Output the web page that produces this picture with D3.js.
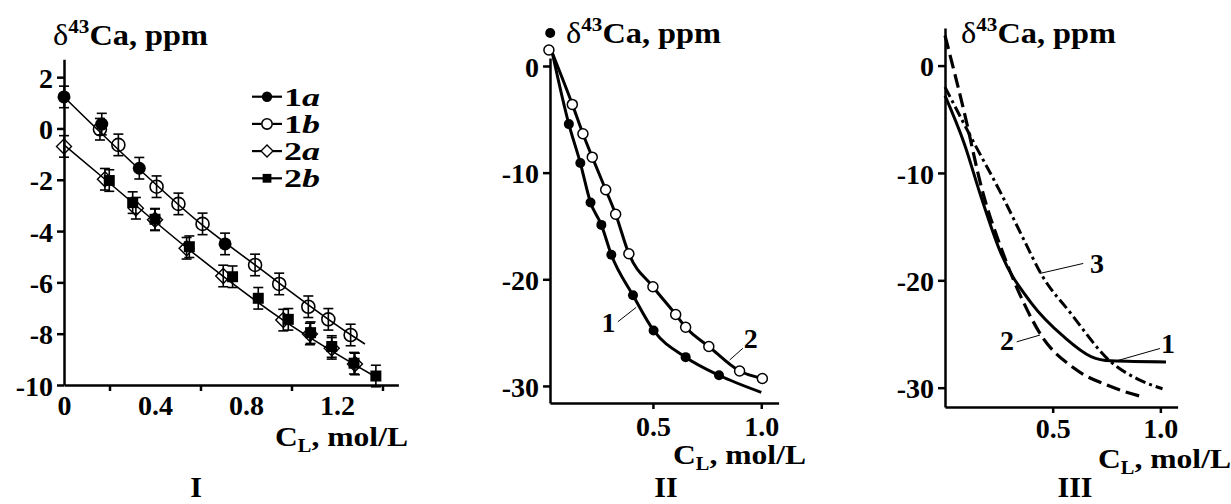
<!DOCTYPE html>
<meta charset="utf-8">
<head>
    <script type="text/javascript" src="https://d3js.org/d3.v7.min.js"></script>
    <style>
        body { margin: 0; background: #fff; }
        text { font-family: "Liberation Serif", "Times New Roman", serif; font-weight: bold; fill: #000; }
        .tick text { font-size: 28px; }
        .domain, .tick line { stroke: #000; stroke-width: 2.5; }
    </style>
    <title></title>
</head>
<body>
    <script>
        var W = 1231, H = 504;
        var svg = d3.select("body").append("svg")
            .attr("width", W)
            .attr("height", H);

        // ---------- panel I data: [C_L, delta43Ca]
        var s1a = [[0, 1.23], [0.166, 0.17], [0.331, -1.55], [0.708, -4.5]];
        var s1b = [[0.158, -0.03], [0.239, -0.64], [0.407, -2.27], [0.503, -2.94], [0.609, -3.72],
                   [0.84, -5.32], [0.946, -6.06], [1.074, -6.95], [1.162, -7.44], [1.26, -8.05]];
        var s2a = [[0, -0.7], [0.18, -1.98], [0.316, -3.11], [0.4, -3.56], [0.539, -4.67],
                   [0.7, -5.75], [0.964, -7.47], [1.081, -8.01], [1.177, -8.57], [1.279, -9.18]];
        var s2b = [[0.199, -2.03], [0.302, -2.89], [0.4, -3.54], [0.551, -4.61], [0.741, -5.78],
                   [0.854, -6.62], [0.986, -7.44], [1.084, -7.96], [1.177, -8.5], [1.275, -9.15], [1.371, -9.65]];
        var errBar = 0.42;
        var fitLine1 = [[0, 1.23], [0.325, -1.54], [0.602, -3.72], [0.84, -5.32], [1.262, -8.05], [1.323, -8.4]];
        var fitLine2 = [[0, -0.64], [0.18, -1.98], [0.541, -4.66], [0.963, -7.47], [1.371, -9.69]];
        var xTicksI = [0, 0.4, 0.8, 1.2];
        var xMinorI = [0.2, 0.6, 1.0, 1.4];
        var yTicksI = [2, 0, -2, -4, -6, -8, -10];
        var legendI = [["1", "a", "circleFill"], ["1", "b", "circleOpen"], ["2", "a", "diamond"], ["2", "b", "square"]];

        // ---------- panel II data
        var p2c1 = [[0.026, 3.1], [0.112, -5.45], [0.165, -9.1], [0.212, -12.8], [0.262, -14.9],
                    [0.308, -17.7], [0.408, -21.5], [0.503, -24.8], [0.651, -27.3], [0.805, -29.0]];
        var p2c2 = [[0.02, 1.5], [0.128, -3.6], [0.177, -6.35], [0.22, -8.55], [0.282, -11.6], [0.328, -13.9],
                    [0.389, -17.6], [0.5, -20.7], [0.605, -23.3], [0.651, -24.5], [0.758, -26.3], [0.9, -28.6], [1.005, -29.3]];
        var p2line1 = [[0.036, 1.2], [0.112, -5.45], [0.165, -9.1], [0.212, -12.8], [0.262, -14.9],
                       [0.308, -17.7], [0.408, -21.5], [0.503, -24.8], [0.651, -27.3], [0.805, -29.0], [1.0, -30.6]];
        var p2line2 = [[0.036, 1.2], [0.128, -3.6], [0.177, -6.35], [0.22, -8.55], [0.282, -11.6], [0.328, -13.9],
                       [0.389, -17.6], [0.5, -20.7], [0.605, -23.3], [0.651, -24.5], [0.758, -26.3], [0.9, -28.6], [1.005, -29.3]];
        var xTicksII = [0.5, 1.0];
        var yTicksII = [0, -10, -20, -30];
        var labelsII = [{t: "1", at: [0.295, -24.95], from: [0.338, -23.98], to: [0.423, -22.63]},
                        {t: "2", at: [0.951, -26.44], from: [0.915, -26.47], to: [0.854, -27.57]}];

        // ---------- panel III data
        var p3c1 = [[0, -2.8], [0.09, -7.3], [0.167, -12.2], [0.26, -17.5], [0.4, -22.1], [0.554, -25.3],
                    [0.678, -27.1], [0.77, -27.5], [1.026, -27.6]];
        var p3c2 = [[0, 2.8], [0.09, -4.4], [0.17, -11.4], [0.27, -17.5], [0.368, -22.2], [0.446, -25.1],
                    [0.6, -28.2], [0.77, -29.9], [0.925, -30.9]];
        var p3c3 = [[0, -2.0], [0.136, -7.25], [0.26, -11.9], [0.368, -16.3], [0.446, -19.4], [0.585, -23.1],
                    [0.77, -27.6], [0.895, -29.2], [1.01, -30.1]];
        var xTicksIII = [0.5, 1.0];
        var yTicksIII = [0, -10, -20, -30];
        var labelsIII = [{t: "3", at: [0.706, -19.33], from: [0.441, -19.36], to: [0.642, -18.43]},
                         {t: "1", at: [1.035, -26.78], from: [0.797, -27.5], to: [0.998, -26.35]},
                         {t: "2", at: [0.288, -26.5], from: [0.333, -25.73], to: [0.441, -25.1]}];

        // ---------- helpers
        var plain = function(d) { return String(d); };  // keeps a hyphen as the minus sign
        var oneDec = function(d) { return d.toFixed(1); };

        function yTitle(x, y) {
            var t = svg.append("text").attr("x", x).attr("y", y)
                .attr("font-size", 29)
                .attr("textLength", 155).attr("lengthAdjust", "spacingAndGlyphs");
            t.append("tspan").attr("font-weight", "normal").text("δ");
            t.append("tspan").attr("font-size", 19).attr("dy", -12).text("43");
            t.append("tspan").attr("dy", 12).text("Ca, ppm");
        }
        function xTitle(x, y) {
            var t = svg.append("text").attr("x", x).attr("y", y)
                .attr("font-size", 28)
                .attr("textLength", 133).attr("lengthAdjust", "spacingAndGlyphs");
            t.append("tspan").text("C");
            t.append("tspan").attr("font-size", 18).attr("dy", 6).text("L");
            t.append("tspan").attr("dy", -6).text(", mol/L");
        }
        function roman(x, txt) {
            svg.append("text").attr("x", x).attr("y", 497)
                .attr("text-anchor", "middle").attr("font-size", 30).text(txt);
        }
        function yAxis(scale, xpos, ticks) {
            var g = svg.append("g").attr("transform", "translate(" + xpos + ",0)")
                .call(d3.axisLeft(scale).tickValues(ticks).tickSize(7).tickPadding(4).tickSizeOuter(0).tickFormat(plain));
            g.selectAll(".tick text").attr("dy", "0.36em");
            return g;
        }

        // =================== PANEL I ===================
        var x1 = d3.scaleLinear().domain([0, 1.47]).range([64, 398.4]);
        var y1 = d3.scaleLinear().domain([-10, 2.7]).range([385, 59.2]);

        yAxis(y1, 64, yTicksI);
        svg.append("g").attr("transform", "translate(0,385)")
            .call(d3.axisBottom(x1).tickValues(xMinorI).tickSize(6).tickFormat("").tickSizeOuter(0));
        var gxl = svg.append("g").attr("transform", "translate(0,385)")
            .call(d3.axisBottom(x1).tickValues(xTicksI).tickSize(0).tickPadding(10).tickFormat(function(d) { return d === 0 ? "0" : oneDec(d); }));
        gxl.select(".domain").remove();
        gxl.selectAll(".tick text").attr("dy", "0.7em");

        var lineI = d3.line().x(function(d) { return x1(d[0]); }).y(function(d) { return y1(d[1]); }).curve(d3.curveMonotoneX);
        [fitLine1, fitLine2].forEach(function(l) {
            svg.append("path").datum(l).attr("d", lineI)
                .attr("fill", "none").attr("stroke", "#000").attr("stroke-width", 1.6);
        });

        // error bars
        var allI = s1a.concat(s1b, s2a, s2b);
        var eb = svg.append("g").attr("stroke", "#000").attr("stroke-width", 1.6);
        allI.forEach(function(d) {
            var xx = x1(d[0]), yt = y1(d[1] + errBar), yb = y1(d[1] - errBar);
            eb.append("line").attr("x1", xx).attr("x2", xx).attr("y1", yt).attr("y2", yb);
            eb.append("line").attr("x1", xx - 5).attr("x2", xx + 5).attr("y1", yt).attr("y2", yt);
            eb.append("line").attr("x1", xx - 5).attr("x2", xx + 5).attr("y1", yb).attr("y2", yb);
        });

        function marker(g, kind, cx, cy, s) {
            if (kind === "circleFill") {
                g.append("circle").attr("cx", cx).attr("cy", cy).attr("r", 6.5 * s).attr("fill", "#000");
            } else if (kind === "circleOpen") {
                g.append("circle").attr("cx", cx).attr("cy", cy).attr("r", 6.5 * s)
                    .attr("fill", "none").attr("stroke", "#000").attr("stroke-width", 1.6);
            } else if (kind === "diamond") {
                var r = 7.5 * s;
                g.append("path").attr("d", "M" + cx + "," + (cy - r) + "L" + (cx + r) + "," + cy + "L" + cx + "," + (cy + r) + "L" + (cx - r) + "," + cy + "Z")
                    .attr("fill", "none").attr("stroke", "#000").attr("stroke-width", 1.4);
            } else {
                var h = 5.5 * s;
                g.append("rect").attr("x", cx - h).attr("y", cy - h).attr("width", 2 * h).attr("height", 2 * h).attr("fill", "#000");
            }
        }
        var mk = svg.append("g");
        s2a.forEach(function(d) { marker(mk, "diamond", x1(d[0]), y1(d[1]), 1); });
        s2b.forEach(function(d) { marker(mk, "square", x1(d[0]), y1(d[1]), 1); });
        s1a.forEach(function(d) { marker(mk, "circleFill", x1(d[0]), y1(d[1]), 1); });
        s1b.forEach(function(d) { marker(mk, "circleOpen", x1(d[0]), y1(d[1]), 1); });

        // legend
        var lg = svg.append("g");
        legendI.forEach(function(d, i) {
            var ly = 96.7 + i * 27.2;
            lg.append("line").attr("x1", 252).attr("x2", 282).attr("y1", ly).attr("y2", ly)
                .attr("stroke", "#000").attr("stroke-width", 2.2);
            if (d[2] === "circleOpen" || d[2] === "diamond") {
                lg.append("circle").attr("cx", 267).attr("cy", ly).attr("r", 6).attr("fill", "#fff");
            }
            marker(lg, d[2], 267, ly, 0.8);
            var t = lg.append("text").attr("x", 284).attr("y", ly + 9).attr("font-size", 26)
                .attr("textLength", 36).attr("lengthAdjust", "spacingAndGlyphs");
            t.append("tspan").text(d[0]);
            t.append("tspan").attr("font-style", "italic").text(d[1]);
        });

        yTitle(53, 45);
        xTitle(275, 446);
        roman(196, "I");

        // =================== PANEL II ===================
        var x2 = d3.scaleLinear().domain([0.025, 1.08]).range([550, 778.6]);
        var y2 = d3.scaleLinear().domain([-31.6, 0.75]).range([403, 58]);

        yAxis(y2, 550, yTicksII);
        var gx2 = svg.append("g").attr("transform", "translate(0,403)")
            .call(d3.axisBottom(x2).tickValues(xTicksII).tickSize(6).tickPadding(7).tickSizeOuter(0).tickFormat(oneDec));
        gx2.selectAll(".tick text").attr("dy", "0.7em");

        var lineII = d3.line().x(function(d) { return x2(d[0]); }).y(function(d) { return y2(d[1]); }).curve(d3.curveMonotoneX);
        [p2line1, p2line2].forEach(function(l) {
            svg.append("path").datum(l).attr("d", lineII)
                .attr("fill", "none").attr("stroke", "#000").attr("stroke-width", 3);
        });
        svg.append("g").selectAll("circle").data(p2c1).join("circle")
            .attr("cx", function(d) { return x2(d[0]); }).attr("cy", function(d) { return y2(d[1]); })
            .attr("r", 5).attr("fill", "#000");
        svg.append("g").selectAll("circle").data(p2c2).join("circle")
            .attr("cx", function(d) { return x2(d[0]); }).attr("cy", function(d) { return y2(d[1]); })
            .attr("r", 5).attr("fill", "#fff").attr("stroke", "#000").attr("stroke-width", 1.5);

        function callouts(list, xs, ys) {
            list.forEach(function(d) {
                svg.append("line")
                    .attr("x1", xs(d.from[0])).attr("y1", ys(d.from[1]))
                    .attr("x2", xs(d.to[0])).attr("y2", ys(d.to[1]))
                    .attr("stroke", "#000").attr("stroke-width", 1);
                svg.append("text").attr("x", xs(d.at[0])).attr("y", ys(d.at[1]))
                    .attr("text-anchor", "middle").attr("font-size", 28).text(d.t);
            });
        }
        callouts(labelsII, x2, y2);

        yTitle(566, 43);
        xTitle(673, 464);
        roman(666, "II");

        // =================== PANEL III ===================
        var x3 = d3.scaleLinear().domain([0, 1.08]).range([945, 1177.6]);
        var y3 = d3.scaleLinear().domain([-31.8, 3.5]).range([407, 28]);

        yAxis(y3, 945, yTicksIII);
        var gx3 = svg.append("g").attr("transform", "translate(0,407)")
            .call(d3.axisBottom(x3).tickValues(xTicksIII).tickSize(6).tickPadding(5).tickSizeOuter(0).tickFormat(oneDec));
        gx3.selectAll(".tick text").attr("dy", "0.7em");

        var lineIII = d3.line().x(function(d) { return x3(d[0]); }).y(function(d) { return y3(d[1]); }).curve(d3.curveMonotoneX);
        svg.append("path").datum(p3c1).attr("d", lineIII)
            .attr("fill", "none").attr("stroke", "#000").attr("stroke-width", 3);
        svg.append("path").datum(p3c2).attr("d", lineIII)
            .attr("fill", "none").attr("stroke", "#000").attr("stroke-width", 3.2).attr("stroke-dasharray", "14,6");
        svg.append("path").datum(p3c3).attr("d", lineIII)
            .attr("fill", "none").attr("stroke", "#000").attr("stroke-width", 3).attr("stroke-dasharray", "11,4,3,4");

        callouts(labelsIII, x3, y3);

        yTitle(961, 43);
        xTitle(1098, 468);
        roman(1075, "III");
    </script>
</body>
</html>
